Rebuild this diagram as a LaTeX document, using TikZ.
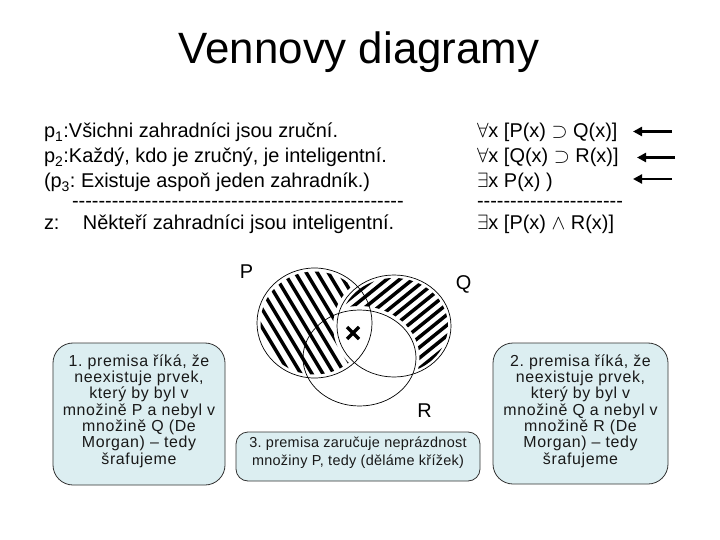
\documentclass[tikz,border=0pt]{standalone}
\usepackage{fontspec}
\setmainfont{Liberation Sans}
\newfontfamily\dashfont{Liberation Sans}[Ligatures=TeXOff]
\newfontfamily\notefont{Liberation Sans}[LetterSpace=4]
\newfontfamily\notefontb{Liberation Sans}[LetterSpace=2]
\usetikzlibrary{arrows.meta}
\definecolor{notefill}{RGB}{220,238,241}
\frenchspacing
\begin{document}
\begin{tikzpicture}[x=1bp,y=-1bp,
  every node/.style={inner sep=0pt, outer sep=0pt},
  txt/.style={anchor=base west, font=\fontsize{20}{24}\selectfont},
  dashtxt/.style={anchor=base west, font=\dashfont\fontsize{20}{24}\selectfont},
  lbl/.style={font=\fontsize{20}{24}\selectfont},
  notebox/.style={draw=black!80, fill=notefill, rounded corners=20bp, line width=0.8bp},
  notetext/.style={font=\notefont\fontsize{16}{16.4}\selectfont, align=center, text=black!90},
  venn/.style={draw=black, line width=0.7bp},
  hatch/.style={line width=3.5bp, line cap=butt},
  arr/.style={line width=2.8bp, -{Triangle[length=9bp,width=9bp]}},
  crossmark/.style={line width=3.5bp}
]
\fill[white] (0,0) rectangle (720,540);
\useasboundingbox (0,0) rectangle (720,540);

% title
\node[anchor=base, font=\fontsize{44}{50}\selectfont] (title) at (359,63.5) {Vennovy diagramy};

% left text
\node[txt] (l1) at (44,138) {\makebox[25bp][l]{p\textsubscript{1}:}Všichni zahradníci jsou zruční.};
\node[txt] (l2) at (44,163) {\makebox[25bp][l]{p\textsubscript{2}:}Každý, kdo je zručný, je inteligentní.};
\node[txt] (l3) at (44,188) {(p\textsubscript{3}: Existuje aspoň jeden zahradník.)};
\node[dashtxt] (l4) at (72,208) {--------------------------------------------------};
\node[txt] (l5) at (44,230) {\makebox[39bp][l]{z:}Někteří zahradníci jsou inteligentní.};

% right text
\node[txt] (r1) at (477,138) {$\forall$x [P(x) $\supset$ Q(x)]};
\node[txt] (r2) at (477,163) {$\forall$x [Q(x) $\supset$ R(x)]};
\node[txt] (r3) at (477,188) {$\exists$x P(x) )};
\node[dashtxt] (r4) at (477,208) {----------------------};
\node[txt] (r5) at (477,230) {$\exists$x [P(x) $\wedge$ R(x)]};

% arrows
\coordinate (a1s) at (672,131.5); \coordinate (a1e) at (633,131.5);
\coordinate (a2s) at (675,157.5); \coordinate (a2e) at (637,157.5);
\coordinate (a3s) at (672,179);   \coordinate (a3e) at (633,179);
\draw[arr] (a1s) -- (a1e);
\draw[arr] (a2s) -- (a2e);
\draw[arr] (a3s) -- (a3e);

% Venn centres
\coordinate (cP) at (314.5,323);
\coordinate (cQ) at (394,326);
\coordinate (cR) at (359.5,358);

% hatch P \ Q
\begin{scope}
  \clip (cP) ellipse [x radius=54, y radius=51.5];
  \begin{scope}[even odd rule]
  \clip (200,200) rectangle (520,450) (cQ) ellipse [x radius=61, y radius=55];
  \foreach \k in {-11,...,11}
    \draw[hatch] (314.5+\k*11-45, 323-75) -- ++(90,150);
  \end{scope}
\end{scope}

% hatch Q \ R
\begin{scope}
  \clip (cQ) ellipse [x radius=54, y radius=48];
  \begin{scope}[even odd rule]
  \clip (200,200) rectangle (520,450) (cR) ellipse [x radius=60, y radius=52];
  \foreach \k in {-12,...,12}
    \draw[hatch] (394-70, 326+\k*10.5+56.6) -- ++(140,-113.2);
  \end{scope}
\end{scope}

% circles
\draw[venn] (cP) ellipse [x radius=57.5, y radius=55];
\draw[venn] (cQ) ellipse [x radius=57, y radius=51];
\draw[venn] (cR) ellipse [x radius=56.5, y radius=48];

% cross
\coordinate (cross) at (353,333);
\draw[crossmark] (cross) ++(-6,-6) -- ++(12,12) (cross) ++(-6,6) -- ++(12,-12);

% set labels
\node[lbl] (lP) at (246.5,272) {P};
\node[lbl] (lQ) at (463.5,284) {Q};
\node[lbl] (lR) at (424.5,411) {R};

% notes
\node[notebox, minimum width=172bp, minimum height=142bp] (n1) at (139,414) {};
\node[notetext] (t1) at (139,411)
  {1. premisa říká, že\\neexistuje prvek,\\který by byl v\\množině P a nebyl v\\množině Q (De\\Morgan) – tedy\\šrafujeme};
\node[notebox, minimum width=175bp, minimum height=141bp] (n2) at (580.5,413.5) {};
\node[notetext] (t2) at (580.5,411)
  {2. premisa říká, že\\neexistuje prvek,\\který by byl v\\množině Q a nebyl v\\množině R (De\\Morgan) – tedy\\šrafujeme};
\node[notebox, rounded corners=12bp, minimum width=244bp, minimum height=49bp] (n3) at (358,456.5) {};
\node[notetext, font=\notefontb\fontsize{14.5}{18.5}\selectfont] (t3) at (358,452.5)
  {3. premisa zaručuje neprázdnost\\množiny P, tedy (děláme křížek)};
\end{tikzpicture}
\end{document}
